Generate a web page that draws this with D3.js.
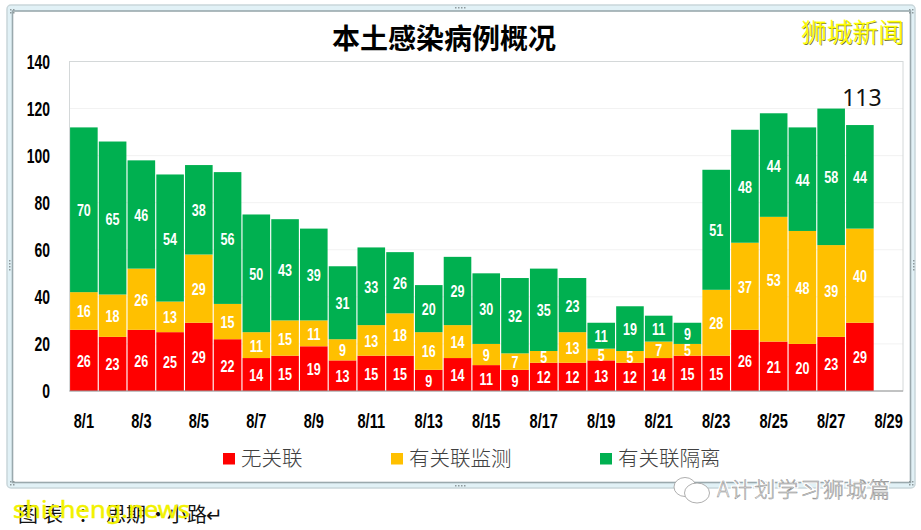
<!DOCTYPE html>
<html><head><meta charset="utf-8">
<script src="https://cdn.jsdelivr.net/npm/d3@7/dist/d3.min.js"></script>
<style>
html,body{margin:0;padding:0;background:#fff;overflow:hidden}
svg{display:block}
.num{font-family:"Liberation Sans","Roboto",sans-serif;font-weight:700}
.cjk{font-family:"Noto Sans CJK SC",sans-serif}
</style></head><body>
<svg id="c" width="921" height="530"></svg>
<script>
const categories=["8/1","8/2","8/3","8/4","8/5","8/6","8/7","8/8","8/9","8/10","8/11","8/12","8/13","8/14","8/15","8/16","8/17","8/18","8/19","8/20","8/21","8/22","8/23","8/24","8/25","8/26","8/27","8/28","8/29"];
const unlinked=[26,23,26,25,29,22,14,15,19,13,15,15,9,14,11,9,12,12,13,12,14,15,15,26,21,20,23,29,null];
const monitored=[16,18,26,13,29,15,11,15,11,9,13,18,16,14,9,7,5,13,5,5,7,5,28,37,53,48,39,40,null];
const quarantined=[70,65,46,54,38,56,50,43,39,31,33,26,20,29,30,32,35,23,11,19,11,9,51,48,44,44,58,44,null];
const seriesNames=["无关联","有关联监测","有关联隔离"];
const seriesColors=["#ff0000","#ffc000","#00b050"];
const yTicks=[0,20,40,60,80,100,120,140];
const xTicks=["8/1","8/3","8/5","8/7","8/9","8/11","8/13","8/15","8/17","8/19","8/21","8/23","8/25","8/27","8/29"];
const calloutValue=113;

const svg=d3.select("#c");
// window frame
svg.append("rect").attr("x",7).attr("y",5).attr("width",908).attr("height",483).attr("rx",4)
  .attr("fill","#e1f1f6").attr("stroke","#c9d6da").attr("stroke-width",1.5);
svg.append("rect").attr("x",12.5).attr("y",11).attr("width",898).attr("height",471.5)
  .attr("fill","#fff").attr("stroke","#9aa9ad").attr("stroke-width",1.6);
// frame handles
const handles=[[12,10,1],[911,10,1],[12,482,1],[911,482,1],[460,7,0],[460,485,0],[9,265,2],[913,265,2]];
handles.forEach(([hx,hy,k])=>{
  const pts=k===1?[[-2,-1],[1,-1],[-2,2],[1,2]]:k===0?[[-5,0],[-2,0],[1,0],[4,0]]:[[0,-5],[0,-2],[0,1],[0,4]];
  svg.append("g").selectAll("rect").data(pts).join("rect")
    .attr("x",d=>hx+d[0]).attr("y",d=>hy+d[1]).attr("width",1.5).attr("height",1.5).attr("fill","#8d999c");
});

const x=d3.scaleBand().domain(categories).range([69.5,903]).paddingInner(0.04).paddingOuter(0.02);
const y=d3.scaleLinear().domain([0,140]).range([391,61.5]);

// grid and plot border
svg.append("g").selectAll("line").data(yTicks.slice(1,-1)).join("line")
  .attr("x1",x.range()[0]).attr("x2",x.range()[1]).attr("y1",d=>y(d)).attr("y2",d=>y(d))
  .attr("stroke","#f2f2f2");
svg.append("rect").attr("x",69.5).attr("y",61.5).attr("width",833.5).attr("height",329.5)
  .attr("fill","none").attr("stroke","#d4d8d9");

const rows=categories.map((c,i)=>({cat:c,s0:unlinked[i],s1:monitored[i],s2:quarantined[i]}));
const stack=d3.stack().keys(["s0","s1","s2"]).value((d,k)=>d[k]||0)(rows);
const layers=svg.append("g").selectAll("g").data(stack).join("g").attr("fill",(d,i)=>seriesColors[i]);
layers.selectAll("rect").data(d=>d.filter(p=>p[1]>p[0])).join("rect")
  .attr("x",d=>x(d.data.cat)).attr("width",x.bandwidth())
  .attr("y",d=>y(d[1])).attr("height",d=>y(d[0])-y(d[1]));
layers.selectAll("text").data(d=>d.filter(p=>p[1]>p[0])).join("text")
  .attr("class","num").attr("fill","#fff").attr("font-size",17).attr("text-anchor","middle")
  .attr("transform",d=>`translate(${x(d.data.cat)+x.bandwidth()/2},${(y(d[0])+y(d[1]))/2+6.5}) scale(.74,1)`)
  .text(d=>d[1]-d[0]);

// axis baseline
svg.append("line").attr("x1",69.5).attr("x2",903).attr("y1",391).attr("y2",391).attr("stroke","#9a9a9a").attr("stroke-width",1);

const yAxis=d3.axisLeft(y).tickValues(yTicks).tickSize(0).tickPadding(0);
const gy=svg.append("g").attr("transform","translate(50,0)").call(yAxis);
gy.select(".domain").remove();
gy.selectAll("text").attr("class","num").attr("fill","#000").attr("font-size",20.5).attr("dy","0.34em").attr("transform","scale(.68,1)");

const xAxis=d3.axisBottom(x).tickValues(xTicks).tickSize(0).tickPadding(0);
const gx=svg.append("g").attr("transform","translate(0,414)").call(xAxis);
gx.select(".domain").remove();
gx.selectAll("text").attr("class","num").attr("fill","#000").attr("font-size",20).attr("dy","0.71em").attr("transform","scale(.73,1)");

// title
svg.append("text").attr("class","cjk").attr("x",444).attr("y",49).attr("text-anchor","middle")
  .attr("font-size",28).attr("font-weight",700).attr("fill","#000").text("本土感染病例概况");

// callout total
svg.append("text").attr("x",x("8/28")+x.bandwidth()/2+2).attr("y",106).attr("text-anchor","middle")
  .attr("font-family","Noto Sans, sans-serif").attr("font-size",23).attr("fill","#111").text(calloutValue);

// legend
const legendX=[223,391,600];
const legend=svg.append("g").selectAll("g").data(seriesNames).join("g")
  .attr("transform",(d,i)=>`translate(${legendX[i]},453)`);
legend.append("rect").attr("width",12).attr("height",11.5).attr("fill",(d,i)=>seriesColors[i]);
legend.append("text").attr("x",18).attr("y",12.5)
  .attr("font-family","Noto Sans CJK SC, sans-serif").attr("font-weight",300).attr("font-size",20.5).attr("fill","#404040").text(d=>d);

// watermarks
const wm=svg.append("g").attr("font-family","Noto Sans CJK SC, sans-serif").attr("font-size",26).attr("font-weight",300);
wm.append("text").attr("x",802).attr("y",42.5).attr("fill","#77772a").attr("textLength",103).attr("lengthAdjust","spacingAndGlyphs").text("狮城新闻");
wm.append("text").attr("x",801).attr("y",41.5).attr("fill","#ffff00").attr("stroke","#ffff00").attr("stroke-width",.3).attr("textLength",103).attr("lengthAdjust","spacingAndGlyphs").text("狮城新闻");

svg.append("text").attr("x","18 43 78 106 126 148 167 187 206").attr("y",522).attr("font-family","Noto Sans CJK SC, sans-serif")
  .attr("font-size",20).attr("fill","#111").text("图表：思期·小路↵");
svg.append("text").attr("x",13).attr("y",518).attr("font-family","Noto Sans, sans-serif")
  .attr("font-size",24).attr("fill","#f2f200").attr("stroke","#f2f200").attr("stroke-width",.5).attr("textLength",177).attr("lengthAdjust","spacingAndGlyphs").text("shicheng.news");

// wechat mark
const w=svg.append("g").attr("fill","#fff").attr("stroke","#a5a5a5").attr("stroke-width",.9);
w.append("ellipse").attr("cx",685).attr("cy",487).attr("rx",11).attr("ry",9.5);
w.append("ellipse").attr("cx",697).attr("cy",493).attr("rx",12.5).attr("ry",10);
const wt=svg.append("g").attr("font-family","Noto Sans CJK SC, sans-serif").attr("font-size",21).attr("font-weight",300);
wt.append("text").attr("x",717).attr("y",497).attr("fill","#fff").attr("stroke","#fff").attr("stroke-width",3).attr("textLength",173).text("A计划学习狮城篇");
wt.append("text").attr("x",717).attr("y",497).attr("fill","#f4f4f4").attr("stroke","#8a8a8a").attr("stroke-width",.5).attr("textLength",173).text("A计划学习狮城篇");
</script>
</body></html>
